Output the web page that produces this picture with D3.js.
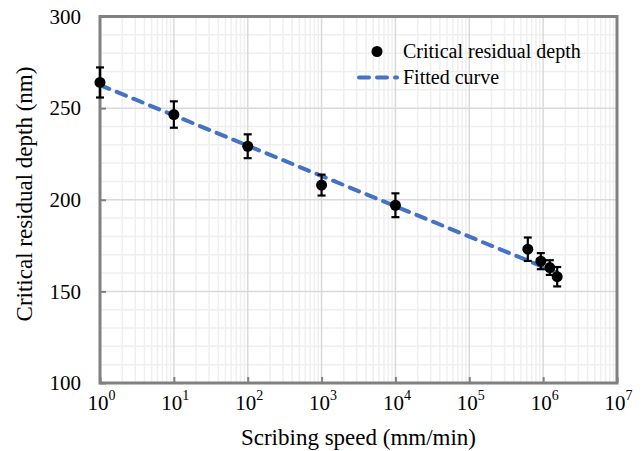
<html>
<head>
<style>
  body { margin: 0; background: #fff; }
  text { font-family: "Liberation Serif", "Times New Roman", serif; fill: #000; }
  .grid-minor { stroke: #efefef; stroke-width: 1.5; }
  .grid-major { stroke: #d9d9d9; stroke-width: 1.5; }
  .fit { stroke: #4472c4; stroke-width: 4; fill: none; stroke-dasharray: 10,8; stroke-linecap: round; }
</style>
<script src="https://d3js.org/d3.v7.min.js"></script>
</head>
<body>
<script>
// measured points (speed in mm/min, depth in nm, error = half bar length)
var speeds = [1, 10, 100, 1000, 10000, 6.2e5, 9.3e5, 1.23e6, 1.55e6];
var depths = [264, 246.5, 229.2, 208, 197, 173, 166.5, 163, 158];
var errors = [8.2, 7.2, 6.5, 5.7, 6.5, 6.4, 4.4, 4, 5.3];

// fitted curve end points (straight on the log axis)
var fitSpeeds = [1, 1.55e6];
var fitDepths = [262.6, 160.2];

var xTicks = [1, 10, 100, 1000, 10000, 1e5, 1e6, 1e7];
var yTicks = [100, 150, 200, 250, 300];
var legendLabels = ["Critical residual depth", "Fitted curve"];

var width = 643, height = 451;
var plotLeft = 100, plotRight = 617, plotTop = 16.5, plotBottom = 383;

var svg = d3.select("body").append("svg")
  .attr("width", width)
  .attr("height", height);

var x = d3.scaleLog().domain([1, 1e7]).range([plotLeft, plotRight]);
var y = d3.scaleLinear().domain([100, 300]).range([plotBottom, plotTop]);

// minor grid
var xMinor = [];
for (var e = 0; e < 7; e++) {
  for (var k = 2; k <= 9; k++) xMinor.push(k * Math.pow(10, e));
}
var yMinor = d3.range(110, 300, 10).filter(v => v % 50 != 0);

svg.append("g").selectAll("line").data(xMinor).enter().append("line")
  .attr("class", "grid-minor")
  .attr("x1", d => x(d)).attr("x2", d => x(d))
  .attr("y1", plotTop).attr("y2", plotBottom);
svg.append("g").selectAll("line").data(yMinor).enter().append("line")
  .attr("class", "grid-minor")
  .attr("x1", plotLeft).attr("x2", plotRight)
  .attr("y1", d => y(d)).attr("y2", d => y(d));

// major grid
svg.append("g").selectAll("line").data(xTicks.slice(1, -1)).enter().append("line")
  .attr("class", "grid-major")
  .attr("x1", d => x(d)).attr("x2", d => x(d))
  .attr("y1", plotTop).attr("y2", plotBottom);
svg.append("g").selectAll("line").data(yTicks.slice(1, -1)).enter().append("line")
  .attr("class", "grid-major")
  .attr("x1", plotLeft).attr("x2", plotRight)
  .attr("y1", d => y(d)).attr("y2", d => y(d));

// axes (ticks inward)
var xAxis = d3.axisBottom(x).tickValues(xTicks).tickSize(-6).tickSizeOuter(0);
var gx = svg.append("g")
  .attr("transform", "translate(0," + plotBottom + ")")
  .call(xAxis);
gx.select(".domain").remove();
gx.selectAll("line").attr("stroke", "#808080").attr("stroke-width", 2);
gx.selectAll("text").each(function(d) {
  var t = d3.select(this);
  t.text("")
    .attr("font-size", 21)
    .attr("font-family", "Liberation Serif")
    .attr("y", 27).attr("dy", null)
    .attr("x", 1);
  t.append("tspan").text("10");
  t.append("tspan").text(Math.round(Math.log10(d)))
    .attr("font-size", 14).attr("dy", -10);
});

var yAxis = d3.axisLeft(y).tickValues(yTicks).tickSize(-6).tickSizeOuter(0).tickPadding(19);
var gy = svg.append("g")
  .attr("transform", "translate(" + plotLeft + ",0)")
  .call(yAxis);
gy.select(".domain").remove();
gy.selectAll("line").attr("stroke", "#808080").attr("stroke-width", 2);
gy.selectAll("text").attr("font-size", 21).attr("font-family", "Liberation Serif");

// frame
svg.append("rect")
  .attr("x", plotLeft).attr("y", plotTop)
  .attr("width", plotRight - plotLeft).attr("height", plotBottom - plotTop)
  .attr("fill", "none")
  .attr("stroke", "#808080")
  .attr("stroke-width", 3);

// fitted curve
var line = d3.line().x(d => x(d[0])).y(d => y(d[1]));
svg.append("path")
  .attr("class", "fit")
  .attr("d", line(d3.zip(fitSpeeds, fitDepths)));

// error bars and points
var pts = d3.zip(speeds, depths, errors);
var eb = svg.append("g").attr("stroke", "#000").attr("stroke-width", 2.2);
pts.forEach(function(p) {
  var cx = x(p[0]), y1 = y(p[1] + p[2]), y2 = y(p[1] - p[2]);
  eb.append("line").attr("x1", cx).attr("x2", cx).attr("y1", y1).attr("y2", y2);
  eb.append("line").attr("x1", cx - 4).attr("x2", cx + 4).attr("y1", y1).attr("y2", y1);
  eb.append("line").attr("x1", cx - 4).attr("x2", cx + 4).attr("y1", y2).attr("y2", y2);
});
svg.append("g").selectAll("circle").data(pts).enter().append("circle")
  .attr("cx", d => x(d[0]))
  .attr("cy", d => y(d[1]))
  .attr("r", 5.5)
  .attr("fill", "#000");

// legend
var lg = svg.append("g");
lg.append("circle").attr("cx", 377).attr("cy", 51.5).attr("r", 5.5).attr("fill", "#000");
lg.append("line").attr("class", "fit")
  .attr("x1", 359).attr("x2", 397).attr("y1", 77.5).attr("y2", 77.5);
lg.append("text").attr("x", 403).attr("y", 57.5).attr("font-size", 20).text(legendLabels[0]);
lg.append("text").attr("x", 403).attr("y", 83.5).attr("font-size", 20).text(legendLabels[1]);

// axis titles
svg.append("text")
  .attr("x", (plotLeft + plotRight) / 2).attr("y", 445)
  .attr("text-anchor", "middle")
  .attr("font-size", 23)
  .text("Scribing speed (mm/min)");
svg.append("text")
  .attr("transform", "translate(31.5," + 194 + ") rotate(-90)")
  .attr("text-anchor", "middle")
  .attr("font-size", 23)
  .text("Critical residual depth (nm)");
</script>
</body>
</html>
